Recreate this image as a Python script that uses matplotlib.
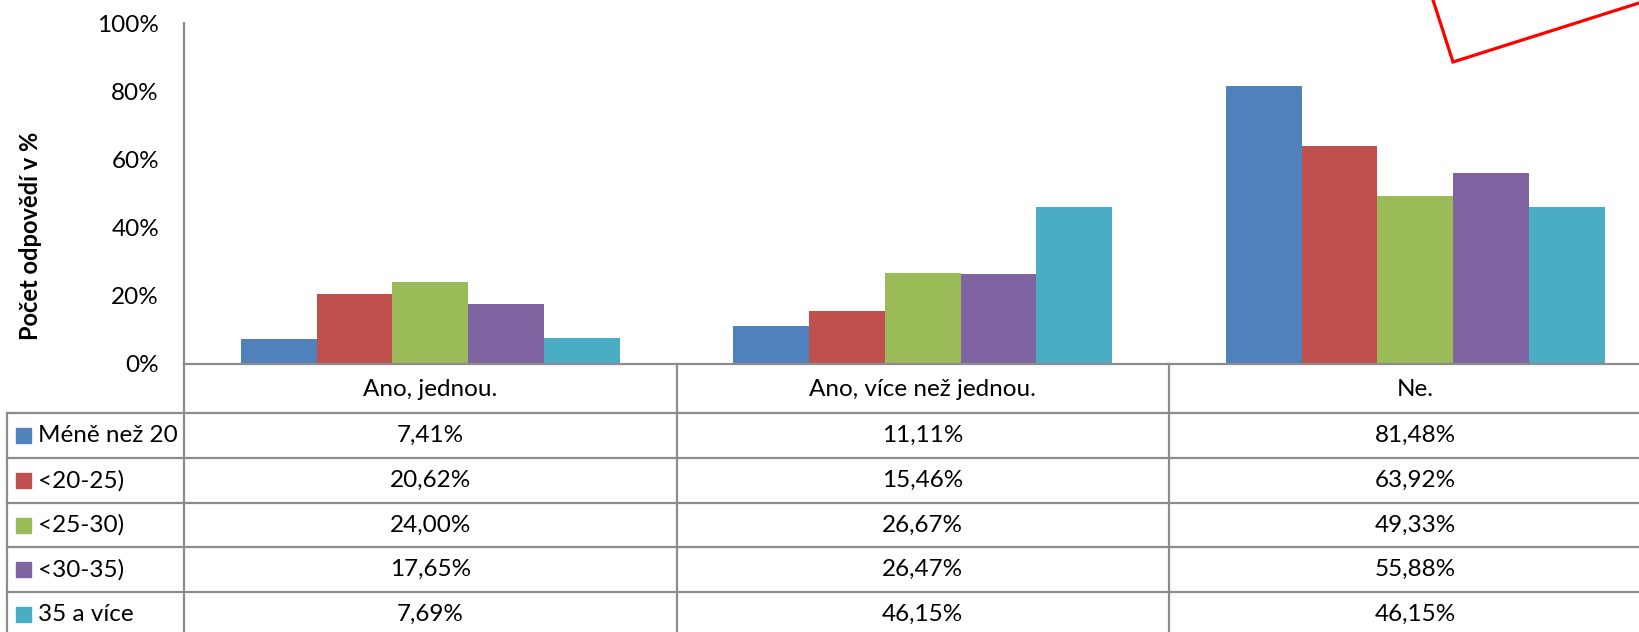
import matplotlib
matplotlib.use("Agg")
import matplotlib.pyplot as plt
import matplotlib.transforms as mtransforms
from matplotlib.patches import Rectangle
from matplotlib.lines import Line2D
import numpy as np

plt.rcParams['font.family'] = ['Lato', 'DejaVu Sans']

categories = ["Ano, jednou.", "Ano, více než jednou.", "Ne."]
series_names = ["Méně než 20", "<20-25)", "<25-30)", "<30-35)", "35 a více"]
s_lt20 = [7.41, 11.11, 81.48]
s_20_25 = [20.62, 15.46, 63.92]
s_25_30 = [24.00, 26.67, 49.33]
s_30_35 = [17.65, 26.47, 55.88]
s_35plus = [7.69, 46.15, 46.15]
series_values = [s_lt20, s_20_25, s_25_30, s_30_35, s_35plus]
colors = ["#4F81BD", "#C0504D", "#9BBB59", "#8064A2", "#4BACC6"]
yticks = [0, 20, 40, 60, 80, 100]
ylabel = "Počet odpovědí v %"

W, H = 1639, 632
fig = plt.figure(figsize=(W / 100, H / 100), dpi=100)
FS = 17.5

# table overlay in pixel coordinates (drawn behind the chart)
ov = fig.add_axes([0, 0, 1, 1], zorder=0)
ov.set_xlim(0, W)
ov.set_ylim(H, 0)
ov.axis('off')

# pixel geometry
ax_left, ax_right, ax_top, ax_base = 184, 1639, 23, 364
cat_w = 492.5
ax = fig.add_axes([ax_left / W, (H - ax_base) / H, (ax_right - ax_left) / W, (ax_base - ax_top) / H], zorder=1)
ax.patch.set_visible(False)

n = len(series_values)
group = 0.769
bw = group / n
x = np.arange(len(categories))
for i, (vals, c) in enumerate(zip(series_values, colors)):
    ax.bar(x - group / 2 + bw * (i + 0.5), vals, width=bw, color=c, edgecolor='none', zorder=2)

ax.set_xlim(-0.5, -0.5 + (ax_right - ax_left) / cat_w)
ax.set_ylim(0, 100)
ax.set_yticks(yticks)
ax.set_yticklabels([f"{t}%" for t in yticks], fontsize=FS, color='#000000')
ax.tick_params(axis='y', length=0, pad=18)
ax.set_xticks([])
for s in ['top', 'right']:
    ax.spines[s].set_visible(False)
grey = '#8c8c8c'
for s in ['left', 'bottom']:
    ax.spines[s].set_color(grey)
    ax.spines[s].set_linewidth(1.6)

fig.text(31 / W, 1 - 236 / H, ylabel, rotation=90, fontsize=17, fontweight='bold',
         ha='center', va='center')

blend = mtransforms.blended_transform_factory(ax.transData, ov.transData)

row_lines = [413, 458, 503, 547, 592, 637]
lw = 1.6
# vertical column separators (category boundaries)
for b in np.arange(-0.5, len(categories) + 0.5, 1.0):
    ov.add_line(Line2D([b, b], [ax_base, H], transform=blend, color=grey, lw=lw, clip_on=False))
# legend column left border
ov.add_line(Line2D([7, 7], [row_lines[0], H], color=grey, lw=lw))
for y in row_lines:
    ov.add_line(Line2D([7, W], [y, y], color=grey, lw=lw))

# header
for k, cat in enumerate(categories):
    ov.text(k, 390, cat, transform=blend, ha='center', va='center', fontsize=FS)

# rows
for r, (name, vals, c) in enumerate(zip(series_names, series_values, colors)):
    yc = (row_lines[r] + row_lines[r + 1]) / 2
    ov.add_patch(Rectangle((16, yc - 7.5), 15, 15, color=c))
    ov.text(38, yc, name, ha='left', va='center', fontsize=FS)
    for k, v in enumerate(vals):
        ov.text(k, yc, f"{v:.2f}".replace('.', ',') + "%", transform=blend,
                ha='center', va='center', fontsize=FS)

# red callout shape (on top of everything)
fig.add_artist(Line2D(np.array([1433, 1453, 1639]) / W, 1 - np.array([0, 62, 3]) / H,
                      transform=fig.transFigure, color='#FF0000', lw=2.3,
                      solid_joinstyle='miter', zorder=5))

fig.savefig("out.png", dpi=100)
